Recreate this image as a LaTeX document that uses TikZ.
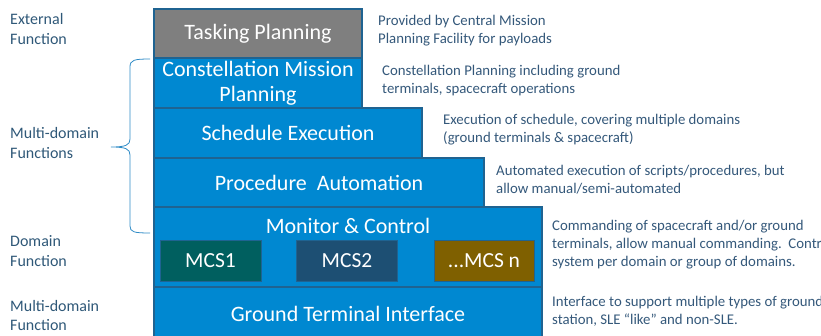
\documentclass[tikz,border=0pt]{standalone}
\usepackage{fontspec}
\setmainfont{Carlito}
\definecolor{layerblue}{HTML}{0088D1}
\definecolor{layerline}{HTML}{1F6391}
\definecolor{taskgray}{HTML}{7F7F7F}
\definecolor{mcsteal}{HTML}{005F5F}
\definecolor{mcsnavy}{HTML}{1D4F73}
\definecolor{mcsbrown}{HTML}{7F6000}
\definecolor{rolecol}{HTML}{2F5878}
\definecolor{notecol}{HTML}{34587A}
\definecolor{bracecol}{HTML}{2E8BC6}

\begin{document}
\begin{tikzpicture}[x=1pt,y=-1pt,
  layer/.style={draw=layerline, line width=1.2pt, fill=layerblue, text=white,
    font=\fontsize{22}{25.5}\selectfont, inner sep=0pt, align=center},
  mcs/.style={draw=layerline, line width=1pt, text=white, inner sep=0pt,
    minimum width=101pt, minimum height=41pt, font=\fontsize{21.5}{24}\selectfont},
  role/.style={anchor=west, align=left, inner sep=0pt, text=rolecol,
    font=\fontsize{16}{19.5}\selectfont},
  note/.style={anchor=west, align=left, inner sep=0pt, text=notecol,
    font=\fontsize{14.8}{18}\selectfont}]
\useasboundingbox (0,0) rectangle (821,335);
\clip (0,0) rectangle (821,335);

% stack of layers, widest at the bottom
\node[layer, minimum width=388pt, minimum height=54pt] (gti) at (348,314) {Ground Terminal Interface};
\node[layer, minimum width=388pt, minimum height=80pt] (mc) at (348,247) {};
\node[text=white, font=\fontsize{22}{24}\selectfont] (mctitle) at (348,226) {Monitor \& Control};
\node[mcs, fill=mcsteal] (mcs1) at (210.5,260.5) {MCS1};
\node[mcs, fill=mcsnavy] (mcs2) at (347,260.5) {MCS2};
\node[mcs, fill=mcsbrown, minimum width=100pt] (mcsn) at (484,260.5) {...MCS n};
\node[layer, minimum width=330pt, minimum height=49pt] (proc) at (319,182.5) {Procedure\ \ Automation};
\node[layer, minimum width=268pt, minimum height=50pt] (sched) at (288,133) {Schedule Execution};
\node[layer, minimum width=208pt, minimum height=50pt] (cmp) at (258,83) {Constellation Mission\\Planning};
\node[layer, fill=taskgray, minimum width=208pt, minimum height=49pt] (task) at (258,33.5) {Tasking Planning};

% function classes on the left
\node[role] (ext) at (10,29) {External\\Function};
\node[role] (multi) at (10,143) {Multi-domain\\Functions};
\node[role] (dom) at (10,251) {Domain\\Function};
\node[role] (multib) at (10,315.5) {Multi-domain\\Function};

\draw[bracecol, line width=0.8pt] (150,59) .. controls (134,59) and (130,60) .. (130,67)
  -- (130,139) .. controls (130,145) and (126,147) .. (111,147)
  .. controls (126,147) and (130,149) .. (130,155)
  -- (130,226) .. controls (130,232) and (134,233) .. (150,233);

% remarks on the right
\node[note] (ntask) at (378,31) {Provided by Central Mission\\Planning Facility for payloads};
\node[note] (ncmp) at (382,80.5) {Constellation Planning including ground\\terminals, spacecraft operations};
\node[note] (nsched) at (443,130) {Execution of schedule, covering multiple domains\\(ground terminals \& spacecraft)};
\node[note] (nproc) at (496,180) {Automated execution of scripts/procedures, but\\allow manual/semi-automated};
\node[note] (nmc) at (552,245) {Commanding of spacecraft and/or ground\\terminals, allow manual commanding.\ \ Control\\system per domain or group of domains.};
\node[note] (ngti) at (552,311) {Interface to support multiple types of ground\\station, SLE “like” and non-SLE.};
\end{tikzpicture}
\end{document}
